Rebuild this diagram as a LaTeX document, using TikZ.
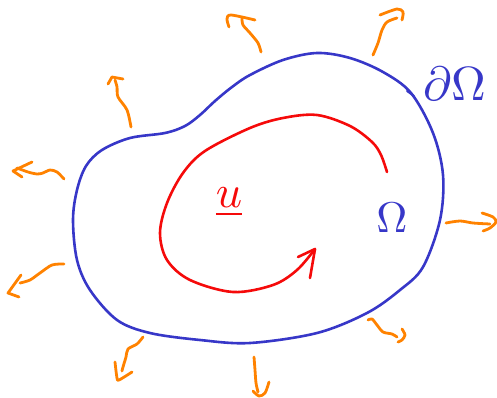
\documentclass[tikz,border=0pt]{standalone}
\definecolor{pblue}{RGB}{55,55,200}
\definecolor{pred}{RGB}{245,10,10}
\definecolor{porange}{RGB}{255,130,0}
\tikzset{
  pen/.style={line width=2.6pt, line cap=round, line join=round},
  bluepen/.style={pen, draw=pblue},
  redpen/.style={pen, draw=pred},
  orangepen/.style={pen, draw=porange, line width=2.8pt},
  lbl/.style={inner sep=0pt}
}
\begin{document}
\begin{tikzpicture}[x=1pt,y=-1pt]
\useasboundingbox (0,0) rectangle (497,398);
% boundary of Omega
\draw[bluepen] plot[smooth cycle, tension=0.55] coordinates {
 (250,75) (283,60) (317,53) (350,58) (383,72) (411,93) (433,133) (443,175)
 (440,220) (423,267) (400,290) (367,313) (317,333) (250,343) (200,340)
 (150,333) (117,320) (90,290) (77,260) (73,220) (77,190) (86,166) (102,150)
 (130,138) (165,133) (185,126) (200,115) (215,101) (232,87)};
\draw[bluepen, line width=2pt] (407,91) -- (414,96);
% red flow
\draw[redpen] plot[smooth, tension=0.55] coordinates {
 (387,172) (381,155) (372,142) (350,126) (317,115) (283,118) (250,128)
 (205,151) (183,173) (167,203) (160,233) (167,260) (190,280) (233,292)
 (273,285) (297,270) (315,249)};
\draw[redpen] (298,257) -- (315,249) -- (310,278);
% orange outward arrows
\draw[orangepen] plot[smooth] coordinates {(261,52) (258,43) (250,33) (243,25) (242,18)};
\draw[orangepen] plot[smooth] coordinates {(229,27) (227,19) (231,15) (255,20)};
\draw[orangepen] plot[smooth] coordinates {(373,55) (378,43) (382,30) (387,22) (397,18)};
\draw[orangepen] plot[smooth] coordinates {(380,15) (397,9) (403,12) (402,20)};
\draw[orangepen] plot[smooth] coordinates {(131,127) (127,110) (118,97) (117,87) (115,80)};
\draw[orangepen] (108,84) -- (112,77) -- (123,79);
\draw[orangepen] plot[smooth] coordinates {(64,179) (57,172) (50,170) (43,173) (37,174) (28,172) (17,168)};
\draw[orangepen] (32,162) -- (13,171) -- (22,177);
\draw[orangepen] plot[smooth] coordinates {(64,264) (52,265) (40,273) (30,280) (20,283)};
\draw[orangepen] (21,275) -- (8,293) -- (19,297);
\draw[orangepen] plot[smooth] coordinates {(143,337) (137,344) (128,349) (126,357) (123,367) (122,371)};
\draw[orangepen] plot[smooth] coordinates {(115,362) (117,378) (119,380) (132,372)};
\draw[orangepen] plot[smooth] coordinates {(254,357) (255,370) (256,383) (258,392)};
\draw[orangepen] plot[smooth] coordinates {(253,391) (259,396) (265,393) (269,382)};
\draw[orangepen] plot[smooth] coordinates {(368,320) (372,319) (377,325) (383,332) (392,334) (397,337)};
\draw[orangepen] plot[smooth] coordinates {(402,329) (405,335) (402,340) (398,342)};
\draw[orangepen] plot[smooth] coordinates {(446,223) (460,221) (473,223) (490,224)};
\draw[orangepen] plot[smooth] coordinates {(482,213) (493,217) (496,222) (490,228) (483,231)};
% labels
\node[lbl, text=pred] (u) at (229,202) {\scalebox{4.6}{$\underline{u}$}};
\node[lbl, text=pblue] (om) at (392,218) {\scalebox{4.3}{$\Omega$}};
\node[lbl, text=pblue] (bd) at (455,84) {\scalebox{4.8}{$\partial\Omega$}};
\end{tikzpicture}
\end{document}
